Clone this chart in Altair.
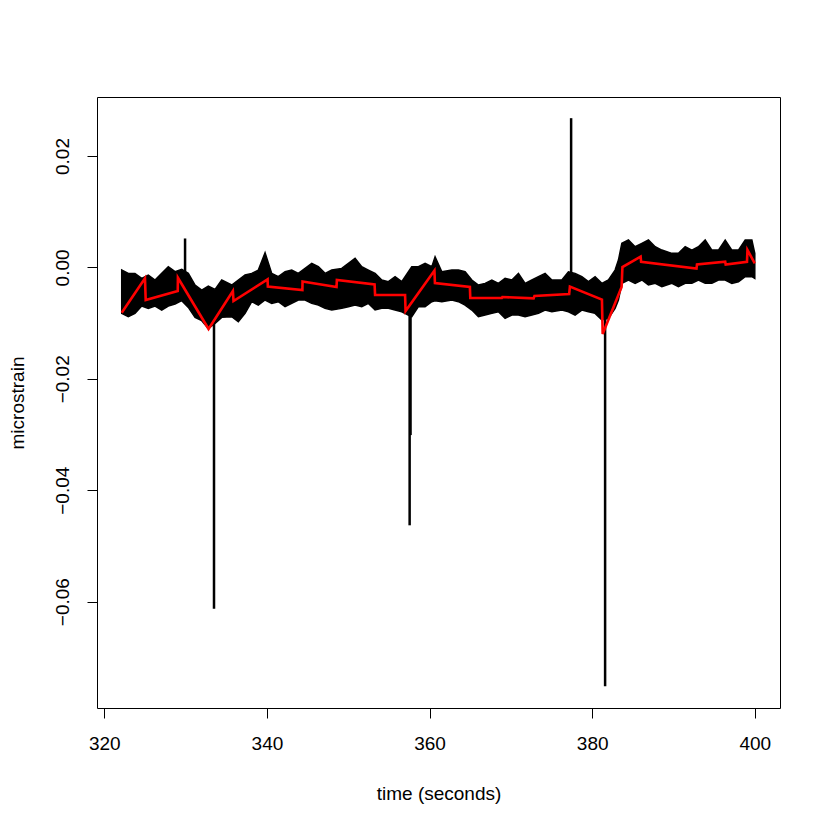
import altair as alt
import pandas as pd

# ---- black strain signal: band envelope (upper / lower) ----
band_t = [322.14, 322.95, 323.77, 324.60, 325.41, 326.24, 327.06, 327.87, 328.70, 329.52,
          330.33, 331.16, 331.98, 332.79, 333.62, 334.44, 335.67, 336.48, 337.31, 338.13,
          338.94, 339.77, 340.59, 341.40, 342.23, 343.05, 343.86, 344.69, 345.51, 346.32,
          347.15, 347.97, 349.20, 350.02, 350.84, 351.66, 352.48, 353.30, 354.12, 354.94,
          355.76, 356.58, 357.81, 358.63, 359.45, 360.28, 360.68, 361.51, 362.74, 363.55,
          364.37, 365.20, 366.01, 366.83, 367.66, 368.47, 369.29, 370.12, 370.93, 371.75,
          372.58, 373.39, 374.21, 375.04, 376.27, 377.08, 377.90, 378.73, 379.54, 380.36,
          381.19, 382.00, 382.82, 383.23, 383.65, 384.46, 385.28, 386.11, 386.92, 387.75,
          388.57, 389.80, 390.61, 391.44, 392.26, 393.07, 393.90, 394.72, 395.53, 396.36,
          397.18, 397.99, 398.82, 399.64, 400.00]
band_upper = [-0.00047, -0.00107, -0.00107, -0.00196, -0.00136, -0.00226, -0.00107, 0.00013, -0.00077, -0.00035,
              -0.00107, -0.00316, -0.00406, -0.00334, -0.00394, -0.00226, -0.00316, -0.00226, -0.00136, -0.00107,
              -0.00047, 0.00264, -0.00107, -0.00166, -0.00077, -0.00047, -0.00107, -0.00017, 0.00073, 0.00013,
              -0.00107, -0.00047, -0.00017, 0.00073, 0.00163, 0.00013, -0.00047, -0.00107, -0.00226, -0.00256,
              -0.00166, -0.00256, 0.00013, 0.00013, 0.00073, 0.00013, 0.00192, -0.00077, -0.00047, -0.00047,
              -0.00077, -0.00226, -0.00316, -0.00286, -0.00226, -0.00286, -0.00196, -0.00226, -0.00107, -0.00286,
              -0.00226, -0.00166, -0.00107, -0.00226, -0.00226, -0.00077, -0.00107, -0.00166, -0.00256, -0.00166,
              -0.00286, -0.00226, -0.00047, 0.00133, 0.00432, 0.00492, 0.00372, 0.00432, 0.00492, 0.00372,
              0.00312, 0.00253, 0.00253, 0.00372, 0.00312, 0.00372, 0.00492, 0.00312, 0.00312, 0.00492,
              0.00312, 0.00312, 0.00492, 0.00492, 0.00253]
band_lower = [-0.00825, -0.00885, -0.00825, -0.00693, -0.00735, -0.00693, -0.00765, -0.00693, -0.00657, -0.00597,
              -0.00717, -0.00896, -0.00956, -0.01094, -0.01004, -0.00896, -0.00885, -0.00974, -0.00825, -0.00615,
              -0.00675, -0.00585, -0.00645, -0.00615, -0.00705, -0.00645, -0.00585, -0.00585, -0.00645, -0.00675,
              -0.00735, -0.00765, -0.00735, -0.00705, -0.00675, -0.00705, -0.00645, -0.00765, -0.00735, -0.00735,
              -0.00765, -0.00795, -0.00885, -0.00705, -0.00705, -0.00615, -0.00600, -0.00615, -0.00585, -0.00615,
              -0.00675, -0.00765, -0.00885, -0.00855, -0.00825, -0.00795, -0.00914, -0.00855, -0.00855, -0.00885,
              -0.00855, -0.00825, -0.00765, -0.00795, -0.00765, -0.00795, -0.00855, -0.00765, -0.00795, -0.00825,
              -0.00944, -0.00914, -0.00735, -0.00585, -0.00286, -0.00226, -0.00286, -0.00226, -0.00316, -0.00286,
              -0.00346, -0.00286, -0.00346, -0.00286, -0.00286, -0.00226, -0.00286, -0.00286, -0.00226, -0.00226,
              -0.00286, -0.00256, -0.00166, -0.00166, -0.00196]

# ---- isolated spikes of the black signal ----
spike_t = [329.93, 333.49, 357.55, 357.66, 377.41, 381.59]
spike_base = [-0.0040, -0.0070, -0.0060, -0.0060, -0.0050, -0.0080]
spike_tip = [0.0052, -0.0613, -0.0463, -0.0301, 0.0268, -0.0752]

# ---- red fitted line ----
red_t = [322.14, 325.00, 325.09, 329.03, 329.05, 332.82, 335.81, 335.89, 340.08, 340.11,
         344.36, 344.38, 348.56, 348.60, 353.24, 353.30, 356.99, 357.05, 360.60, 360.66,
         364.96, 365.01, 368.89, 368.96, 372.80, 372.90, 377.17, 377.26, 381.20, 381.29,
         383.62, 383.72, 385.96, 386.02, 392.83, 392.89, 396.36, 396.42, 399.04, 399.10, 400.00]
red_y = [-0.00813, -0.00196, -0.00585, -0.00424, -0.00185, -0.01106, -0.00424, -0.00603, -0.00214, -0.00343,
         -0.00406, -0.00253, -0.00352, -0.00226, -0.00307, -0.00496, -0.00496, -0.00783, -0.00056, -0.00280,
         -0.00352, -0.00549, -0.00549, -0.00531, -0.00555, -0.00513, -0.00478, -0.00343, -0.00576, -0.01196,
         -0.00352, 0.00007, 0.00192, 0.00102, -0.00020, 0.00052, 0.00102, 0.00052, 0.00102, 0.00312, 0.00074]

x_ticks = [320, 340, 360, 380, 400]
y_ticks = [-0.06, -0.04, -0.02, 0.00, 0.02]

band_df = pd.DataFrame({"t": band_t, "lo": band_lower, "hi": band_upper})
spike_df = pd.DataFrame({"t": spike_t, "lo": spike_base, "hi": spike_tip})
red_df = pd.DataFrame({"t": red_t, "lo": red_y})

xs = alt.Scale(domain=[319.1, 403.1], nice=False, zero=False)
ys = alt.Scale(domain=[-0.0791, 0.0306], nice=False, zero=False)
xax = alt.Axis(values=x_ticks, format="d")
yax = alt.Axis(values=y_ticks, format=".2f")

X = alt.X("t:Q", scale=xs, axis=xax, title="time (seconds)")
Y = alt.Y("lo:Q", scale=ys, axis=yax, title="microstrain")

band = alt.Chart(band_df).mark_area(color="black", stroke="black", strokeWidth=1.5,
                                     opacity=1).encode(x=X, y=Y, y2="hi:Q")
spikes = alt.Chart(spike_df).mark_rule(color="black", strokeWidth=2.5).encode(
    x=X, y=Y, y2="hi:Q")
red = alt.Chart(red_df).mark_line(color="#ff0000", strokeWidth=2.6,
                                   strokeJoin="miter").encode(x=X, y=Y)

chart = alt.layer(band, spikes, red).properties(
    width=683, height=611,
    autosize=alt.AutoSizeParams(type="none"),
    padding={"left": 89, "top": 89, "right": 42, "bottom": 114},
    background="white",
).configure_view(stroke="black", strokeWidth=1).configure_axis(
    grid=False, domain=False, tickColor="black", tickSize=10, tickWidth=1,
    labelFont="Liberation Sans", labelFontSize=19, labelColor="black",
    titleFont="Liberation Sans", titleFontSize=19, titleFontWeight="normal", titleColor="black",
).configure_axisX(
    labelPadding=16, titleY=85, titleBaseline="middle",
).configure_axisY(
    labelAngle=270, labelAlign="center", labelBaseline="bottom", labelPadding=15,
    titleAngle=270, titleX=-80, titleY=305.5, titleAlign="center", titleBaseline="middle",
)

chart.save("out.html", embed_options={"renderer": "svg", "actions": False})
